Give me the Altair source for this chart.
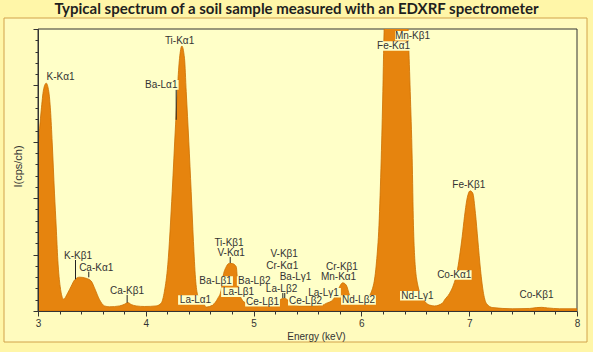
import altair as alt
import pandas as pd

# ---- spectrum (energy in keV, intensity in arbitrary units, full axis = 50) ----
energy = [3.000, 3.030, 3.051, 3.076, 3.100, 3.116, 3.132, 3.153, 3.169, 3.184,
          3.206, 3.237, 3.276, 3.308, 3.339, 3.385, 3.447, 3.494, 3.524, 3.571,
          3.617, 3.663, 3.756, 3.802, 3.833, 3.865, 3.911, 3.988, 4.096, 4.143,
          4.173, 4.204, 4.245, 4.276, 4.313, 4.334, 4.359, 4.375, 4.399, 4.421,
          4.442, 4.461, 4.482, 4.529, 4.560, 4.622, 4.668, 4.699, 4.714, 4.746,
          4.776, 4.804, 4.839, 4.853, 4.885, 4.931, 4.993, 5.117, 5.194, 5.240,
          5.287, 5.317, 5.364, 5.426, 5.549, 5.642, 5.673, 5.735, 5.781, 5.827,
          5.859, 5.890, 5.920, 5.982, 6.045, 6.112, 6.140, 6.163, 6.184, 6.199,
          6.208, 6.242, 6.316, 6.390, 6.437, 6.453, 6.471, 6.483, 6.495, 6.523,
          6.570, 6.632, 6.678, 6.752, 6.771, 6.817, 6.854, 6.885, 6.910, 6.935,
          6.956, 6.978, 7.009, 7.033, 7.058, 7.080, 7.105, 7.133, 7.163, 7.219,
          7.404, 7.559, 7.624, 7.671, 7.726, 7.838, 8.000]
intensity = [28.9, 35.6, 39.2, 40.4, 38.9, 35.6, 29.8, 20.9, 14.9, 9.0,
             4.3, 2.1, 3.2, 4.4, 5.5, 6.0, 5.8, 5.3, 4.1, 2.0,
             0.9, 0.75, 0.9, 1.2, 1.5, 1.15, 0.9, 0.8, 0.9, 1.4,
             3.5, 8.2, 21.2, 33.0, 44.8, 47.0, 44.8, 38.9, 30.0, 21.2,
             12.3, 5.8, 2.8, 1.65, 0.7, 1.1, 2.25, 3.7, 5.85, 7.85,
             8.45, 8.4, 7.85, 4.9, 2.25, 1.35, 0.9, 0.9, 1.05, 1.95,
             2.25, 1.95, 1.25, 0.9, 0.9, 1.05, 1.35, 1.95, 3.7, 5.0,
             4.6, 2.85, 1.65, 1.35, 2.0, 4.6, 8.7, 15.2, 27.1, 38.9,
             47.7, 62.0, 66.0, 62.0, 48.0, 38.9, 27.1, 15.2, 9.3, 4.6,
             2.25, 1.05, 0.9, 1.4, 1.95, 3.1, 4.6, 6.7, 9.6, 13.2,
             16.7, 19.7, 21.3, 20.9, 17.3, 12.6, 7.3, 3.1, 1.25, 0.6,
             0.4, 0.45, 0.6, 0.65, 0.55, 0.4, 0.4]

# ---- peak labels ----
label_text = ["K-Kα1", "Ti-Kα1", "Ba-Lα1", "K-Kβ1", "Ca-Kα1", "Ca-Kβ1", "La-Lα1",
              "Ti-Kβ1", "V-Kα1", "Ba-Lβ1", "La-Lβ1", "Ba-Lβ2", "Ce-Lβ1", "V-Kβ1",
              "Cr-Kα1", "Ba-Lγ1", "La-Lβ2", "Ce-Lβ2", "La-Lγ1", "Cr-Kβ1", "Mn-Kα1",
              "Nd-Lβ2", "Mn-Kβ1", "Fe-Kα1", "Fe-Kβ1", "Co-Kα1", "Nd-Lγ1", "Co-Kβ1"]
label_energy = [3.209, 4.313, 4.143, 3.371, 3.540, 3.826, 4.461,
                4.772, 4.792, 4.647, 4.860, 5.006, 5.083, 5.284,
                5.266, 5.389, 5.259, 5.481, 5.648, 5.820, 5.788,
                5.973, 6.474, 6.298, 6.996, 6.861, 6.520, 7.624]
label_intensity = [41.5, 47.9, 40.1, 9.75, 7.68, 3.55, 1.95,
                   12.1, 10.23, 5.32, 3.32, 5.32, 1.65, 10.05,
                   7.98, 6.08, 3.95, 1.83, 3.24, 7.75, 5.98,
                   1.95, 48.8, 46.98, 22.34, 6.38, 2.71, 2.84]

# ---- leader lines ----
leader_energy = [4.282, 3.348, 3.471, 3.827, 4.783, 5.271, 5.289]
leader_top = [39.2, 9.04, 6.97, 2.84, 9.57, 3.19, 3.19]
leader_bottom = [33.9, 5.62, 5.97, 1.47, 8.51, 2.30, 2.30]

# ---- axis ticks ----
x_ticks = [3.0, 3.2, 3.4, 3.6, 3.8, 4.0, 4.2, 4.4, 4.6, 4.8, 5.0, 5.2, 5.4, 5.6,
           5.8, 6.0, 6.2, 6.4, 6.6, 6.8, 7.0, 7.2, 7.4, 7.6, 7.8, 8.0]
y_ticks = [0, 2, 4, 6, 8, 10, 12, 14, 16, 18, 20, 22, 24, 26, 28, 30, 32, 34,
           36, 38, 40, 42, 44, 46, 48, 50]

TITLE = "Typical spectrum of a soil sample measured with an EDXRF spectrometer"

W, H = 539, 282
OUTER_BG = "#FFF6A8"
BOX_BG = "#FFFBBE"
PLOT_BG = "#FFFFC8"
ORANGE = "#E6840E"
TXT = "#333333"
FONT = "Liberation Sans"

spec_df = pd.DataFrame({"E": energy, "I": intensity})
lab_df = pd.DataFrame({"label": label_text, "E": label_energy, "I": label_intensity})
lead_df = pd.DataFrame({"E": leader_energy, "top": leader_top, "bottom": leader_bottom})
one = pd.DataFrame({"a": [0]})

xs = alt.Scale(domain=[3, 8], nice=False, zero=False)
ys = alt.Scale(domain=[0, 50], nice=False, zero=True)

is_int = "abs(datum.value - round(datum.value)) < 0.01"
x_axis = alt.Axis(
    values=x_ticks, title="Energy (keV)", grid=False,
    labelExpr=f"{is_int} ? format(datum.value, 'd') : ''",
    tickSize={"condition": {"test": is_int, "value": 5}, "value": 3},
    domainColor=TXT, tickColor=TXT, labelColor=TXT, titleColor=TXT,
    labelFont=FONT, labelFontSize=10, labelPadding=2, labelOverlap=False,
    labelFlush=False, titleFont=FONT, titleFontSize=10, titleFontWeight="normal",
    titleX=278, titleY=25, titleBaseline="middle", titleAlign="center", zindex=1,
)
y_axis = alt.Axis(
    values=y_ticks, title="I(cps/ch)", grid=False, labels=False,
    tickSize={"condition": {"test": "datum.value % 10 === 0", "value": 5}, "value": 3},
    domainColor=TXT, tickColor=TXT, titleColor=TXT,
    titleFont=FONT, titleFontSize=11, titleFontWeight="normal",
    titleX=-20, titleY=137, titleAngle=270, titleAlign="center",
    titleBaseline="middle", zindex=1,
)

box = alt.Chart(one).mark_rect(fill=BOX_BG, stroke="#D2A24A", strokeWidth=1).encode(
    x=alt.value(-34), x2=alt.value(549), y=alt.value(-11), y2=alt.value(313)
)
title_text = alt.Chart(one).mark_text(
    font="Lato", fontSize=15, fontWeight="bold", color="#1F1F1F",
    align="center", baseline="alphabetic",
).encode(x=alt.value(258.5), y=alt.value(-15), text=alt.value(TITLE))
plot_bg = alt.Chart(one).mark_rect(fill=PLOT_BG, stroke=TXT, strokeWidth=1).encode(
    x=alt.value(0), x2=alt.value(W), y=alt.value(0), y2=alt.value(H)
)
area = alt.Chart(spec_df).mark_area(
    color=ORANGE, stroke="#CC6E00", strokeWidth=0.8, clip=True, interpolate="monotone"
).encode(
    x=alt.X("E:Q", scale=xs, axis=x_axis),
    y=alt.Y("I:Q", scale=ys, axis=y_axis),
)
label_boxes = alt.Chart(lab_df).transform_calculate(
    x1="datum.E - (length(datum.label) * 5.3 + 3) / 2 / 107.8",
    x2="datum.E + (length(datum.label) * 5.3 + 3) / 2 / 107.8",
    y1="datum.I - 0.85",
    y2="datum.I + 0.85",
).mark_rect(fill=PLOT_BG).encode(
    x=alt.X("x1:Q", scale=xs, axis=x_axis), x2="x2:Q",
    y=alt.Y("y1:Q", scale=ys, axis=y_axis), y2="y2:Q",
)
leaders = alt.Chart(lead_df).mark_rule(color="#222222", strokeWidth=1).encode(
    x=alt.X("E:Q", scale=xs, axis=x_axis),
    y=alt.Y("top:Q", scale=ys, axis=y_axis), y2="bottom:Q",
)
labels = alt.Chart(lab_df).mark_text(
    font=FONT, fontSize=10, color=TXT, align="center", baseline="middle"
).encode(
    x=alt.X("E:Q", scale=xs, axis=x_axis),
    y=alt.Y("I:Q", scale=ys, axis=y_axis),
    text="label:N",
)

chart = alt.layer(box, title_text, plot_bg, area, label_boxes, leaders, labels).properties(
    width=W, height=H,
    autosize=alt.AutoSizeParams(type="none"),
    padding={"left": 38, "top": 29, "right": 16, "bottom": 41},
    background=OUTER_BG,
).configure_view(stroke=None)

chart.save("out.html", embed_options={"renderer": "svg", "actions": False})
